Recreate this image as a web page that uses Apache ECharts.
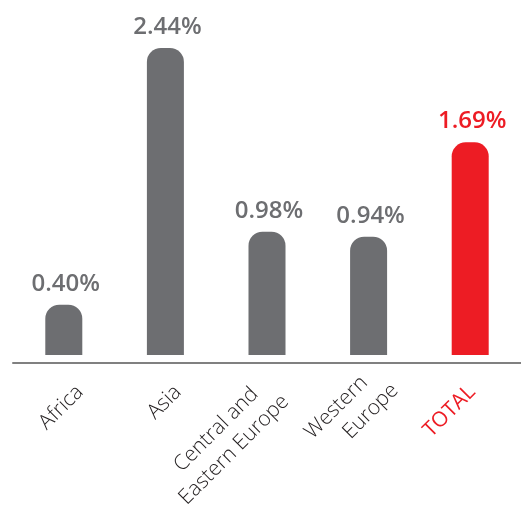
<!DOCTYPE html>
<html>
<head>
<meta charset="utf-8">
<script src="https://cdn.jsdelivr.net/npm/echarts@6/dist/echarts.min.js"></script>
<style>
html, body { margin: 0; padding: 0; background: #fff; }
#chart { width: 521px; height: 513px; }
</style>
</head>
<body>
<div id="chart"></div>
<script>
// regions and their values (%)
var regions = ['Africa', 'Asia', 'Central and   \nEastern Europe', 'Western   \nEurope', 'TOTAL'];
var values = [0.40, 2.44, 0.98, 0.94, 1.69];
var highlight = 'TOTAL';

var gray = '#6d6e71';
var red = '#ed1c24';

var chart = echarts.init(document.getElementById('chart'));

var barData = [];
for (var i = 0; i < values.length; i++) {
	var c = regions[i] == highlight ? red : gray;
	barData.push({
		value: values[i],
		itemStyle: { color: c },
		label: { color: c }
	});
}

var catData = [];
for (var j = 0; j < regions.length; j++) {
	var ts = { color: regions[j] == highlight ? red : '#231f20' };
	if (regions[j] == highlight) ts.fontWeight = 400;
	if (j == 3) ts.padding = [0, -16, 0, 0]; // Western Europe sits a bit further out
	catData.push({
		value: regions[j],
		textStyle: ts
	});
}

var option = {
	animation: false,
	// grid 0: bars; grid 1: same width, a bit to the right, only for the rotated labels
	grid: [{
		left: 13,
		top: 48,
		width: 512,
		height: 307
	}, {
		left: 31,
		top: 48,
		width: 512,
		height: 307
	}],
	xAxis: [{
		type: 'category',
		gridIndex: 0,
		data: regions,
		offset: 8,
		axisLine: { onZero: false, lineStyle: { color: '#808080', width: 2 } },
		axisTick: { show: false },
		axisLabel: { show: false }
	}, {
		type: 'category',
		gridIndex: 1,
		data: catData,
		axisLine: { show: false },
		axisTick: { show: false },
		axisLabel: {
			interval: 0,
			rotate: 45,
			fontFamily: 'Open Sans',
			fontWeight: 300,
			fontSize: 21,
			lineHeight: 27,
			margin: 36
		}
	}],
	yAxis: [{
		type: 'value',
		gridIndex: 0,
		min: 0,
		max: 2.44,
		show: false
	}, {
		type: 'value',
		gridIndex: 1,
		show: false
	}],
	series: [{
		type: 'bar',
		data: barData,
		barWidth: 37,
		itemStyle: { borderRadius: [14, 14, 0, 0] },
		label: {
			show: true,
			position: 'top',
			distance: 9,
			offset: [2, 0],
			fontFamily: 'Open Sans',
			fontWeight: 600,
			fontSize: 24,
			formatter: function(p) {
				return p.value.toFixed(2) + '%';
			}
		}
	}]
};

chart.setOption(option);
</script>
</body>
</html>
